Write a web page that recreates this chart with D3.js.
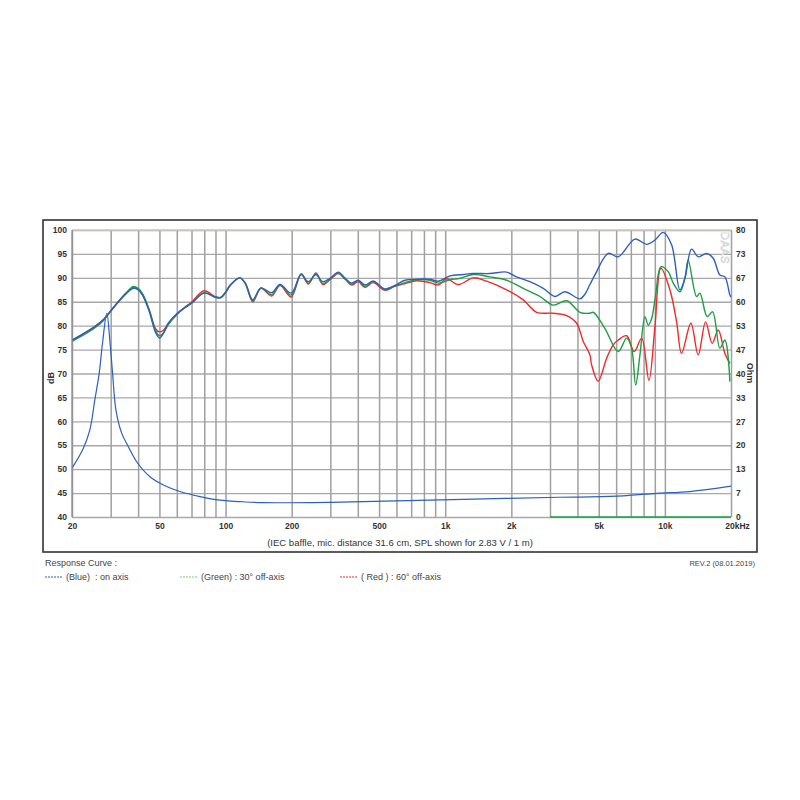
<!DOCTYPE html>
<html>
<head>
<meta charset="utf-8">
<script src="https://cdn.jsdelivr.net/npm/d3@7"></script>
<style>
  html, body { margin: 0; padding: 0; background: #fff; }
  svg { display: block; font-family: Arial, "Liberation Sans", sans-serif; }
</style>
</head>
<body>
<svg id="chart" width="800" height="800"></svg>
<script>
// ---------------- DATA ----------------
const dbTicks = [40, 45, 50, 55, 60, 65, 70, 75, 80, 85, 90, 95, 100];
const ohmTickLabels = ["0", "7", "13", "20", "27", "33", "40", "47", "53", "60", "67", "73", "80"];
const gridFreqs = [20, 30, 40, 50, 60, 70, 80, 90, 100, 200, 300, 400, 500, 600, 700, 800, 900,
  1000, 2000, 3000, 4000, 5000, 6000, 7000, 8000, 9000, 10000, 20000];
const xTickValues = [20, 50, 100, 200, 500, 1000, 2000, 5000, 10000, 20000];
const xTickLabels = ["20", "50", "100", "200", "500", "1k", "2k", "5k", "10k", "20kHz"];

// On-axis SPL (dB)
const blueFreq = [20, 25, 28, 30, 35, 38, 40, 42, 45, 48, 50, 52, 55, 60, 65, 70, 80, 90, 95, 100, 105, 116, 123, 133, 145, 162, 177, 199, 221, 238, 258, 277, 299, 326, 350, 375, 402, 431, 470, 532, 590, 656, 742, 852, 930, 1051, 1208, 1342, 1598, 1904, 2113, 2430, 2795, 3159, 3508, 4106, 4327, 4558, 4804, 5523, 6134, 7306, 8260, 9011, 9829, 10730, 11704, 12334, 13232, 14179, 15484, 16594, 17802, 18759, 19770, 20000];
const blueDb = [77.0, 79.6, 81.4, 83.1, 86.5, 87.8, 87.5, 86.3, 82.9, 78.6, 77.4, 78.3, 80.6, 82.5, 83.7, 84.7, 86.8, 86.0, 85.9, 87.0, 88.5, 90.0, 88.9, 85.4, 87.9, 86.9, 88.6, 86.8, 90.7, 89.2, 90.7, 89.2, 89.9, 91.2, 89.9, 88.9, 89.5, 88.5, 89.3, 87.7, 88.4, 89.5, 89.7, 89.7, 89.3, 90.4, 90.7, 90.9, 90.9, 91.2, 90.2, 89.2, 87.8, 86.1, 87.1, 85.6, 86.6, 88.6, 90.6, 95.1, 94.4, 98.1, 97.0, 97.9, 99.5, 96.9, 87.5, 89.9, 96.0, 94.4, 95.1, 94.1, 90.6, 90.2, 86.4, 86.0];

// 30 deg off-axis SPL (dB)
const greenFreq = [20, 25, 28, 30, 35, 38, 40, 42, 45, 48, 50, 52, 55, 60, 65, 70, 80, 90, 95, 100, 105, 116, 123, 133, 145, 162, 177, 199, 221, 238, 258, 277, 299, 326, 350, 375, 402, 431, 470, 532, 590, 656, 742, 852, 930, 1051, 1167, 1342, 1598, 1904, 2265, 2699, 3103, 3572, 4106, 4558, 4719, 5335, 6134, 6697, 7058, 7361, 7700, 8115, 8400, 8704, 9077, 9594, 10354, 10912, 11704, 12334, 12767, 13942, 14433, 15584, 16488, 17802, 18759, 19770];
const greenDb = [76.7, 79.3, 81.2, 83.0, 86.6, 88.2, 87.8, 86.6, 83.2, 79.0, 77.9, 78.4, 80.3, 82.3, 83.7, 84.7, 86.9, 85.9, 85.8, 86.9, 88.4, 90.0, 88.9, 85.2, 87.9, 86.5, 88.5, 86.4, 90.8, 88.9, 90.8, 88.8, 89.7, 91.0, 89.9, 88.7, 89.4, 88.2, 89.3, 87.5, 88.3, 89.0, 89.6, 89.5, 88.9, 89.6, 89.9, 90.7, 90.2, 89.5, 87.8, 86.1, 84.3, 85.2, 82.8, 82.6, 82.8, 79.4, 74.6, 77.4, 75.3, 67.6, 73.9, 81.9, 80.1, 81.5, 86.4, 92.3, 91.3, 88.9, 87.1, 89.9, 93.7, 86.1, 86.8, 81.9, 82.9, 75.3, 77.0, 68.3];

// 60 deg off-axis SPL (dB)
const redFreq = [20, 25, 28, 30, 35, 38, 40, 42, 45, 48, 50, 52, 55, 60, 65, 70, 80, 90, 95, 100, 105, 116, 123, 133, 145, 162, 177, 199, 221, 238, 258, 277, 299, 326, 350, 375, 402, 431, 470, 532, 590, 656, 742, 852, 930, 1015, 1147, 1342, 1544, 1904, 2265, 2607, 3103, 3572, 3965, 4251, 4558, 4640, 4973, 5431, 5819, 6134, 6697, 7253, 7838, 8461, 9011, 9594, 10540, 11306, 11915, 13134, 14179, 15324, 16420, 17486, 18759, 19770];
const redDb = [76.9, 79.6, 81.4, 83.1, 86.7, 88.0, 87.6, 86.4, 83.2, 79.4, 78.7, 79.0, 80.5, 82.4, 83.8, 84.9, 87.3, 86.0, 85.9, 86.9, 88.4, 90.0, 88.8, 85.0, 87.8, 86.2, 88.4, 86.0, 90.8, 88.7, 91.0, 88.6, 89.6, 90.9, 89.7, 88.5, 89.2, 88.0, 89.0, 87.4, 88.2, 88.8, 89.4, 89.0, 88.5, 89.8, 88.6, 90.0, 89.3, 87.5, 85.4, 82.8, 82.6, 82.1, 80.5, 76.7, 73.9, 71.8, 68.4, 73.2, 76.0, 77.0, 77.9, 74.6, 77.4, 68.6, 79.8, 92.0, 87.5, 80.8, 74.2, 80.5, 73.9, 80.8, 76.3, 79.1, 74.2, 72.1];

// Impedance (Ohm)
const impFreq = [20, 22.5, 24.1, 25.4, 26.6, 27.6, 28.8, 29.8, 30.6, 31.7, 33.7, 36.1, 39.4, 45.3, 52.1, 62, 76.5, 94.3, 116, 148, 299, 601, 1208, 3330, 4558, 6463, 9172, 12996, 20000];
const impOhm = [13.6, 19.1, 24.2, 32.6, 40.1, 49.0, 56.8, 48.5, 40.1, 29.8, 23.3, 19.6, 15.4, 11.2, 8.9, 7.1, 5.7, 4.7, 4.3, 4.0, 4.1, 4.5, 4.9, 5.5, 5.6, 5.9, 6.6, 7.1, 8.6];

// Green baseline segment at the bottom
const greenBaseFreq = [3000, 20000];
const greenBaseOhm = [0, 0];

// ---------------- CHART ----------------
const svg = d3.select("#chart");
const L = 72, R = 731, T = 230, B = 517;

const x = d3.scaleLog().domain([20, 20000]).range([L, R]);
const y = d3.scaleLinear().domain([40, 100]).range([B, T]);
const yOhm = d3.scaleLinear().domain([0, 80]).range([B, T]);

// outer frame
svg.append("rect").attr("x", 43).attr("y", 220).attr("width", 714).attr("height", 332)
  .attr("fill", "#fff").attr("stroke", "#333").attr("stroke-width", 1.6);

// plot background
svg.append("rect").attr("x", L).attr("y", T).attr("width", R - L).attr("height", B - T)
  .attr("fill", "#fff");

// horizontal grid
const hGrid = svg.append("g").attr("transform", `translate(${L},0)`)
  .call(d3.axisLeft(y).tickValues(dbTicks).tickSize(-(R - L)).tickFormat(""));
hGrid.select(".domain").remove();
hGrid.selectAll("line").attr("stroke", "#a8a8a8").attr("stroke-width", 1.3);

// vertical grid
const vGrid = svg.append("g").attr("transform", `translate(0,${B})`)
  .call(d3.axisBottom(x).tickValues(gridFreqs).tickSize(-(B - T)).tickFormat(""));
vGrid.select(".domain").remove();
vGrid.selectAll("line").attr("stroke", "#a0a0a0").attr("stroke-width", 1.5);

// top border (tan)
svg.append("line").attr("x1", L).attr("x2", R).attr("y1", T).attr("y2", T)
  .attr("stroke", "#d2cbb8").attr("stroke-width", 1.5);

// left axis labels
const yAxisL = svg.append("g").attr("transform", `translate(${L},0)`)
  .call(d3.axisLeft(y).tickValues(dbTicks).tickSize(0).tickPadding(5).tickFormat(d3.format("d")));
yAxisL.select(".domain").remove();
yAxisL.selectAll("text").attr("font-size", 8.5).attr("font-weight", "bold").attr("fill", "#333")
  .attr("font-family", "Arial, 'Liberation Sans', sans-serif");

// right axis labels (Ohm)
const yAxisR = svg.append("g").attr("transform", `translate(${R},0)`)
  .call(d3.axisRight(y).tickValues(dbTicks).tickSize(0).tickPadding(5)
    .tickFormat((d, i) => ohmTickLabels[i]));
yAxisR.select(".domain").remove();
yAxisR.selectAll("text").attr("font-size", 8.5).attr("font-weight", "bold").attr("fill", "#333")
  .attr("font-family", "Arial, 'Liberation Sans', sans-serif");

// x axis labels
const xAxis = svg.append("g").attr("transform", `translate(0,${B})`)
  .call(d3.axisBottom(x).tickValues(xTickValues).tickSize(0).tickPadding(6)
    .tickFormat((d, i) => xTickLabels[i]));
xAxis.select(".domain").remove();
xAxis.selectAll("text").attr("font-size", 8.5).attr("font-weight", "bold").attr("fill", "#333")
  .attr("font-family", "Arial, 'Liberation Sans', sans-serif");
xAxis.selectAll("text").filter((d) => d === 20000).attr("dx", 6);

// axis titles
svg.append("text").attr("transform", "translate(54,378) rotate(-90)")
  .attr("text-anchor", "middle").attr("font-size", 9).attr("font-weight", "bold")
  .attr("fill", "#333").text("dB");
svg.append("text").attr("transform", "translate(747,373) rotate(90)")
  .attr("text-anchor", "middle").attr("font-size", 9).attr("font-weight", "bold")
  .attr("fill", "#333").text("Ohm");

// watermark
svg.append("text").attr("transform", "translate(721,232) rotate(90)")
  .attr("text-anchor", "start").attr("font-size", 11).attr("fill", "#fff")
  .attr("stroke", "#b4b4b4").attr("stroke-width", 0.4).attr("letter-spacing", 0.5)
  .text("DAAS");

// clip
svg.append("clipPath").attr("id", "plotclip").append("rect")
  .attr("x", L).attr("y", T - 2).attr("width", R - L + 1).attr("height", B - T + 3);

const curves = svg.append("g").attr("clip-path", "url(#plotclip)");

function lineFor(freqs, vals, ys) {
  return d3.line()
    .x((d, i) => x(freqs[i]))
    .y((d, i) => ys(vals[i]))
    .curve(d3.curveCatmullRom.alpha(0.5))(vals);
}

const BLUE = "#2d5fbd", GREEN = "#1e9e45", RED = "#ef2a2a";

curves.append("path").attr("d", lineFor(greenBaseFreq, greenBaseOhm, yOhm))
  .attr("fill", "none").attr("stroke", GREEN).attr("stroke-width", 1.5);
curves.append("path").attr("d", lineFor(impFreq, impOhm, yOhm))
  .attr("fill", "none").attr("stroke", BLUE).attr("stroke-width", 1.2);
curves.append("path").attr("d", lineFor(redFreq, redDb, y))
  .attr("fill", "none").attr("stroke", RED).attr("stroke-width", 1.4);
curves.append("path").attr("d", lineFor(greenFreq, greenDb, y))
  .attr("fill", "none").attr("stroke", GREEN).attr("stroke-width", 1.4);
curves.append("path").attr("d", lineFor(blueFreq, blueDb, y))
  .attr("fill", "none").attr("stroke", BLUE).attr("stroke-width", 1.4);

// left plot border
svg.append("line").attr("x1", L).attr("x2", L).attr("y1", T).attr("y2", B)
  .attr("stroke", "#8a8a8a").attr("stroke-width", 1.2);

// caption
svg.append("text").attr("x", 400).attr("y", 546).attr("text-anchor", "middle")
  .attr("font-size", 9.5).attr("fill", "#333")
  .text("(IEC baffle, mic. distance 31.6 cm, SPL shown for 2.83 V / 1 m)");

// bottom text
svg.append("text").attr("x", 45).attr("y", 566).attr("font-size", 9).attr("fill", "#444")
  .text("Response Curve :");
svg.append("text").attr("x", 755).attr("y", 566).attr("text-anchor", "end")
  .attr("font-size", 7.5).attr("fill", "#444").text("REV.2 (08.01.2019)");

const legend = [
  { color: BLUE, x: 45, label: "(Blue)  : on axis" },
  { color: "#7fcf6a", x: 180, label: "(Green) : 30° off-axis" },
  { color: RED, x: 340, label: "( Red ) : 60° off-axis" }
];
legend.forEach(l => {
  svg.append("line").attr("x1", l.x).attr("x2", l.x + 18).attr("y1", 577).attr("y2", 577)
    .attr("stroke", l.color).attr("stroke-width", 1).attr("stroke-dasharray", "2,1");
  svg.append("text").attr("x", l.x + 21).attr("y", 580).attr("font-size", 9)
    .attr("fill", "#444").style("white-space", "pre").text(l.label);
});
</script>
</body>
</html>
